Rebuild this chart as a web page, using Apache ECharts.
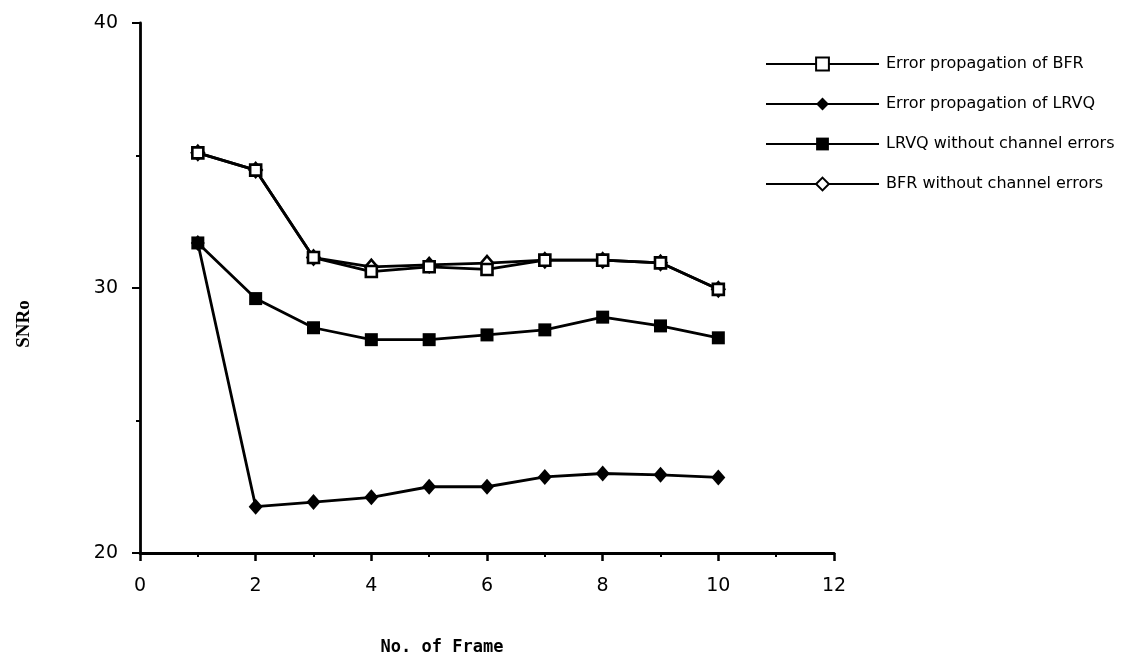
<!DOCTYPE html>
<html>
<head>
<meta charset="utf-8">
<script src="https://cdn.jsdelivr.net/npm/echarts@6/dist/echarts.min.js"></script>
<style>
  html, body { margin: 0; padding: 0; background: #fff; }
  #chart { width: 1123px; height: 669px; }
</style>
</head>
<body>
<div id="chart"></div>
<script>
// Frame numbers (x)
const frames = [1, 2, 3, 4, 5, 6, 7, 8, 9, 10];

// SNRo per frame for each curve
const bfrErrorProp   = [35.1, 34.45, 31.15, 30.62, 30.8, 30.7, 31.05, 31.05, 30.95, 29.95];
const lrvqErrorProp  = [31.7, 21.75, 21.92, 22.1, 22.5, 22.5, 22.87, 23.0, 22.95, 22.85];
const lrvqNoErrors   = [31.7, 29.6, 28.5, 28.05, 28.05, 28.23, 28.42, 28.9, 28.57, 28.12];
const bfrNoErrors    = [35.1, 34.45, 31.15, 30.8, 30.87, 30.94, 31.05, 31.05, 30.95, 29.95];

const seriesNames = [
  'Error propagation of BFR',
  'Error propagation of LRVQ',
  'LRVQ without channel errors',
  'BFR without channel errors'
];

const pairs = (ys) => frames.map((x, i) => [x, ys[i]]);

const chart = echarts.init(document.getElementById('chart'), null, { renderer: 'canvas' });

const lineBase = {
  type: 'line',
  lineStyle: { color: '#000', width: 2.8 },
  showAllSymbol: true
};

chart.setOption({
  animation: false,
  backgroundColor: '#fff',
  grid: { left: 140, right: 289, top: 23, bottom: 116, containLabel: false },
  legend: {
    orient: 'vertical',
    left: 760,
    top: 51,
    itemWidth: 113,
    itemHeight: 16,
    itemGap: 24,
    textStyle: { fontFamily: 'DejaVu Sans', fontSize: 16, lineHeight: 16, color: '#000', padding: [0, 0, 0, 2] },
    data: seriesNames
  },
  xAxis: {
    type: 'value',
    min: 0, max: 12, interval: 2,
    name: 'No. of Frame',
    nameLocation: 'middle',
    nameGap: 86,
    nameTextStyle: { fontFamily: 'DejaVu Sans Mono', fontWeight: 'bold', fontSize: 17, color: '#000', padding: [0, 90, 0, 0] },
    axisLine: { lineStyle: { color: '#000', width: 2.8 } },
    axisTick: { show: true, length: 8, lineStyle: { color: '#000', width: 2.5 } },
    minorTick: { show: true, splitNumber: 2, length: 4, lineStyle: { color: '#000', width: 2 } },
    axisLabel: { fontFamily: 'DejaVu Sans', fontSize: 19, color: '#000', margin: 24 },
    splitLine: { show: false }
  },
  yAxis: {
    type: 'value',
    min: 20, max: 40, interval: 10,
    name: 'SNRo',
    nameLocation: 'middle',
    nameGap: 106,
    nameRotate: 90,
    nameTextStyle: { fontFamily: 'Liberation Serif', fontWeight: 'bold', fontSize: 19, color: '#000', padding: [0, 0, 0, -72] },
    axisLine: { lineStyle: { color: '#000', width: 2.8 } },
    axisTick: { show: true, length: 8, lineStyle: { color: '#000', width: 2 } },
    minorTick: { show: true, splitNumber: 2, length: 4, lineStyle: { color: '#000', width: 2 } },
    axisLabel: { fontFamily: 'DejaVu Sans', fontSize: 19, color: '#000', margin: 22 },
    splitLine: { show: false }
  },
  series: [
    Object.assign({}, lineBase, {
      name: seriesNames[2],
      data: pairs(lrvqNoErrors),
      symbol: 'rect', symbolSize: 13,
      itemStyle: { color: '#000', borderColor: '#000', borderWidth: 0 },
      z: 2
    }),
    Object.assign({}, lineBase, {
      name: seriesNames[1],
      data: pairs(lrvqErrorProp),
      symbol: 'diamond', symbolSize: [14, 16],
      itemStyle: { color: '#000', borderColor: '#000', borderWidth: 0 },
      z: 3
    }),
    Object.assign({}, lineBase, {
      name: seriesNames[3],
      data: pairs(bfrNoErrors),
      symbol: 'diamond', symbolSize: [12, 14],
      itemStyle: { color: '#fff', borderColor: '#000', borderWidth: 2.6 },
      z: 4
    }),
    Object.assign({}, lineBase, {
      name: seriesNames[0],
      data: pairs(bfrErrorProp),
      symbol: 'rect', symbolSize: 11,
      itemStyle: { color: '#fff', borderColor: '#000', borderWidth: 2.6 },
      z: 5
    })
  ]
});
</script>
</body>
</html>
